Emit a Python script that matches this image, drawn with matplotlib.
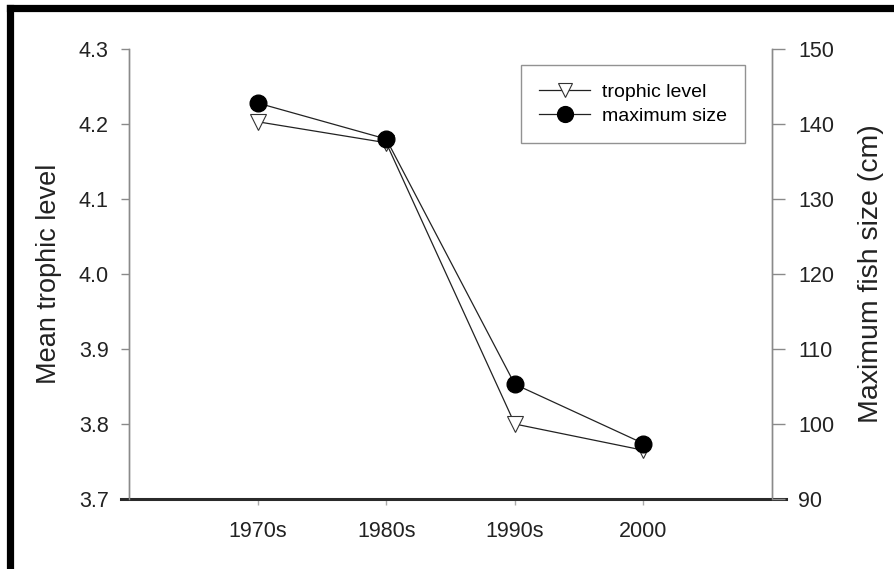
import matplotlib
matplotlib.use('Agg')
import matplotlib.pyplot as plt
from matplotlib.lines import Line2D

decades = ["1970s", "1980s", "1990s", "2000"]
trophic_level = [4.203, 4.175, 3.800, 3.765]
max_size = [142.8, 138.0, 105.3, 97.4]

plt.rcParams['font.family'] = ['Liberation Sans', 'DejaVu Sans']

fig = plt.figure(figsize=(8.95, 5.69), dpi=100)
ax = fig.add_axes([129 / 895, 1 - 499 / 569, (772 - 129) / 895, (499 - 49) / 569])
ax2 = ax.twinx()

x = list(range(1, len(decades) + 1))

l1, = ax.plot(x, trophic_level, color='#222222', lw=0.9, marker='v', ms=11,
              mfc='white', mec='#333333', mew=0.8, label='trophic level', zorder=3)
l2, = ax2.plot(x, max_size, color='#222222', lw=0.9, marker='o', ms=12,
               mfc='black', mec='black', label='maximum size', zorder=3)

ax.set_xlim(0, 5)
ax.set_ylim(3.7, 4.3)
ax2.set_ylim(90, 150)
ax.set_xticks(x)
ax.set_xticklabels(decades)
ax.set_yticks([3.7, 3.8, 3.9, 4.0, 4.1, 4.2, 4.3])
ax.set_yticklabels(['3.7', '3.8', '3.9', '4.0', '4.1', '4.2', '4.3'])
ax2.set_yticks([90, 100, 110, 120, 130, 140, 150])

for a in (ax, ax2):
    a.spines['top'].set_visible(False)
    a.spines['left'].set_color('#8a8a8a')
    a.spines['right'].set_color('#8a8a8a')
    a.spines['left'].set_linewidth(1.0)
    a.spines['right'].set_linewidth(1.0)
    a.spines['bottom'].set_color('#2a2a2a')
    a.spines['bottom'].set_linewidth(2.2)
ax2.spines['bottom'].set_visible(False)
ax.spines['bottom'].set_bounds(-0.06, 5.11)

ax.tick_params(axis='y', colors='#8a8a8a', labelcolor='#222222', labelsize=15.5,
               length=5.5, width=1, pad=9)
ax2.tick_params(axis='y', colors='#8a8a8a', labelcolor='#222222', labelsize=15.5,
                length=9, width=1, pad=10)
ax.tick_params(axis='x', colors='#aaaaaa', labelcolor='#222222', labelsize=15.5,
               length=4, width=1, pad=12)

ax.set_ylabel('Mean trophic level', fontsize=19.5, color='#222222', labelpad=12)
ax2.set_ylabel('Maximum fish size (cm)', fontsize=20.5, color='#222222', labelpad=17)

leg = ax2.legend(handles=[l1, l2], loc='upper left',
                 bbox_to_anchor=((521 - 129) / 643, 1 - (65 - 49) / 450),
                 borderaxespad=0, fontsize=14, frameon=True, fancybox=False,
                 handlelength=2.6, borderpad=0.95, labelspacing=0.3,
                 handletextpad=0.6, markerscale=0.95)
leg.get_frame().set_edgecolor('#777777')
leg.get_frame().set_linewidth(1.0)

# thick frame on the left and top edges of the picture
fig.add_artist(Line2D([10.5 / 895, 10.5 / 895], [0, 1 - 8 / 569], transform=fig.transFigure,
                      color='black', lw=5.2, solid_capstyle='projecting'))
fig.add_artist(Line2D([10.5 / 895, 1], [1 - 8 / 569, 1 - 8 / 569], transform=fig.transFigure,
                      color='black', lw=5.2, solid_capstyle='projecting'))

fig.savefig('out.png', dpi=100)
